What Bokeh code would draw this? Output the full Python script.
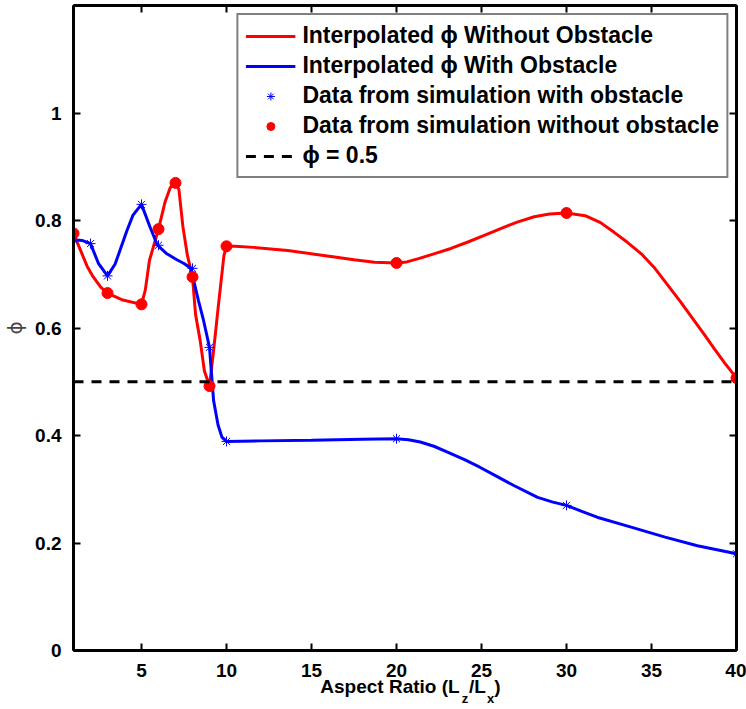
from bokeh.plotting import figure
from bokeh.models import (Range1d, LinearAxis, FixedTicker, Legend, LegendItem,
                          CustomLabelingPolicy)
from bokeh.embed import file_html
from bokeh.resources import INLINE

# ---- data ----
x_without = [1, 3, 5, 6, 7, 8, 9, 10, 20, 30, 40]
phi_without = [0.776, 0.665, 0.644, 0.784, 0.870, 0.695, 0.492, 0.752, 0.721, 0.814, 0.507]

x_with = [1, 2, 3, 5, 6, 8, 9, 10, 20, 30, 40]
phi_with = [0.764, 0.757, 0.697, 0.830, 0.754, 0.711, 0.564, 0.389, 0.394, 0.270, 0.180]

# interpolated curves
curve_without_x = [1.0, 1.25, 1.5, 1.8, 2.1, 2.6, 3.0, 3.9, 5.0, 5.22, 5.47, 6.0, 6.39, 6.69,
                   7.0, 7.2, 7.43, 7.7, 8.0, 8.18, 8.45, 8.7, 9.0, 9.24, 9.5, 9.65, 9.85,
                   10.0, 10.5, 11.6, 13.6, 15.5, 17.5, 18.7, 20.0, 20.6, 21.3, 22.2, 23.2,
                   24.2, 25.2, 26.2, 27.1, 28.1, 29.0, 30.0, 31.1, 32.0, 32.8, 33.6, 34.4,
                   35.2, 35.9, 36.7, 37.5, 38.1, 38.7, 39.3, 40.0]
curve_without_y = [0.776, 0.757, 0.738, 0.715, 0.698, 0.676, 0.665, 0.652, 0.644, 0.670,
                   0.726, 0.784, 0.835, 0.861, 0.870, 0.858, 0.790, 0.735, 0.695, 0.625,
                   0.577, 0.520, 0.492, 0.558, 0.635, 0.678, 0.735, 0.752, 0.752, 0.750,
                   0.744, 0.736, 0.727, 0.7225, 0.721, 0.723, 0.729, 0.738, 0.748, 0.760,
                   0.773, 0.786, 0.797, 0.807, 0.812, 0.814, 0.809, 0.796, 0.778, 0.759,
                   0.738, 0.711, 0.682, 0.649, 0.614, 0.588, 0.561, 0.535, 0.507]

curve_with_x = [1.0, 1.5, 2.0, 2.47, 3.0, 3.45, 4.14, 4.5, 5.0, 5.5, 5.94, 6.49, 7.08, 7.5,
                7.9, 8.35, 8.65, 9.0, 9.24, 9.5, 9.73, 10.0, 12.0, 15.0, 18.0, 20.0, 20.7,
                21.4, 22.2, 23.0, 24.0, 24.9, 25.9, 26.9, 28.3, 29.2, 30.0, 30.9, 31.8,
                33.8, 35.8, 37.7, 40.0]
curve_with_y = [0.764, 0.763, 0.757, 0.720, 0.697, 0.719, 0.781, 0.810, 0.830, 0.788, 0.754,
                0.738, 0.727, 0.720, 0.711, 0.651, 0.614, 0.564, 0.465, 0.420, 0.397, 0.389,
                0.390, 0.391, 0.393, 0.394, 0.392, 0.388, 0.380, 0.369, 0.355, 0.341, 0.324,
                0.307, 0.285, 0.276, 0.270, 0.259, 0.248, 0.2295, 0.211, 0.195, 0.180]

threshold_x = [1, 40]
threshold_y = [0.5, 0.5]

x_ticks = [5, 10, 15, 20, 25, 30, 35, 40]
y_ticks = [0, 0.2, 0.4, 0.6, 0.8, 1.0]
y_tick_labels = {0: "0", 0.2: "0.2", 0.4: "0.4", 0.6: "0.6", 0.8: "0.8", 1.0: "1"}

# x-axis title pieces: main-line text and subscripts
xlabel_main = ["Aspect Ratio (L", "/L", ")"]
xlabel_sub = ["z", "x"]

FONT = "Liberation Sans"
X0, X1, Y0, Y1 = 1, 40, 0, 1.2
W, H = 746, 709
BL, BR, BT, BB = 73, 10, 5, 59

p = figure(width=W, height=H, x_range=Range1d(X0, X1), y_range=Range1d(Y0, Y1),
           output_backend="svg", toolbar_location=None,
           min_border_left=BL, min_border_right=BR, min_border_top=BT, min_border_bottom=BB)
p.xgrid.visible = False
p.ygrid.visible = False
p.outline_line_color = "black"
p.outline_line_width = 2
p.background_fill_color = "white"
p.border_fill_color = "white"

# policy that draws no tick labels (for the box's top and right axes)
no_labels = CustomLabelingPolicy(
    code="const r = indices.clone(); for (const i of indices) { r.unset(i) } return r")


def style_axis(ax, show_labels=True):
    ax.axis_line_width = 3
    ax.axis_line_color = "black"
    ax.major_tick_in = 7
    ax.major_tick_out = 0
    ax.major_tick_line_width = 2
    ax.minor_tick_line_color = None
    ax.major_label_text_font = FONT
    ax.major_label_text_font_style = "bold"
    ax.major_label_text_color = "black"
    if show_labels:
        ax.major_label_text_font_size = "19px"
    else:
        ax.major_label_text_font_size = "0px"
        ax.major_label_policy = no_labels
        ax.major_label_standoff = 0


xa = p.xaxis[0]
xa.ticker = FixedTicker(ticks=x_ticks)
style_axis(xa)
xa.major_label_standoff = 13

ya = p.yaxis[0]
ya.ticker = FixedTicker(ticks=y_ticks)
ya.major_label_overrides = y_tick_labels
style_axis(ya)
ya.major_label_standoff = 12
ya.axis_label = "ϕ"
ya.axis_label_text_font = "DejaVu Sans"
ya.axis_label_text_font_style = "normal"
ya.axis_label_text_font_size = "20px"
ya.axis_label_standoff = 5

top = LinearAxis(ticker=FixedTicker(ticks=x_ticks))
style_axis(top, show_labels=False)
p.add_layout(top, "above")
right = LinearAxis(ticker=FixedTicker(ticks=y_ticks))
style_axis(right, show_labels=False)
p.add_layout(right, "right")

# x-axis title: centres of the pieces in pixels, converted to data x
px_per_unit = (W - BL - BR) / (X1 - X0)
def to_x(px):
    return X0 + (px - BL) / px_per_unit

main_centres = [to_x(389.5), to_x(477.0), to_x(497.0)]
sub_centres = [to_x(464.5), to_x(490.0)]


def title_axis(centres, texts, size, standoff):
    ax = LinearAxis(ticker=FixedTicker(ticks=centres),
                    major_label_overrides={c: t for c, t in zip(centres, texts)})
    ax.axis_line_color = None
    ax.major_tick_line_color = None
    ax.minor_tick_line_color = None
    ax.major_tick_in = 0
    ax.major_tick_out = 0
    ax.major_label_standoff = standoff
    ax.major_label_text_font = FONT
    ax.major_label_text_font_style = "bold"
    ax.major_label_text_font_size = size
    ax.major_label_text_color = "black"
    return ax


p.add_layout(title_axis(main_centres, xlabel_main, "19px", -4), "below")
p.add_layout(title_axis(sub_centres, xlabel_sub, "13px", -9), "below")

# curves and data
r_red = p.line(curve_without_x, curve_without_y, line_color="#ff0000", line_width=3)
r_blue = p.line(curve_with_x, curve_with_y, line_color="#0000ff", line_width=3)
r_star = p.scatter(x_with, phi_with, marker="asterisk", size=10, line_color="#0000ff",
                   line_width=1)
r_dot = p.scatter(x_without, phi_without, marker="circle", size=11, fill_color="#ff0000",
                  line_color="#ff0000")
r_dash = p.line(threshold_x, threshold_y, line_color="black", line_width=3, line_dash="10 8")

legend = Legend(items=[
    LegendItem(label="Interpolated ϕ Without Obstacle", renderers=[r_red]),
    LegendItem(label="Interpolated ϕ With Obstacle", renderers=[r_blue]),
    LegendItem(label="Data from simulation with obstacle", renderers=[r_star]),
    LegendItem(label="Data from simulation without obstacle", renderers=[r_dot]),
    LegendItem(label="ϕ = 0.5", renderers=[r_dash]),
], location="top_right")
legend.label_text_font = FONT
legend.label_text_font_style = "bold"
legend.label_text_font_size = "23px"
legend.label_text_color = "black"
legend.border_line_color = "black"
legend.border_line_width = 2.5
legend.background_fill_color = "white"
legend.background_fill_alpha = 1
legend.glyph_width = 50
legend.label_standoff = 7
legend.padding = 7
legend.spacing = 3
legend.margin = 8
p.add_layout(legend)

open("out.html", "w").write(file_html(p, INLINE))
